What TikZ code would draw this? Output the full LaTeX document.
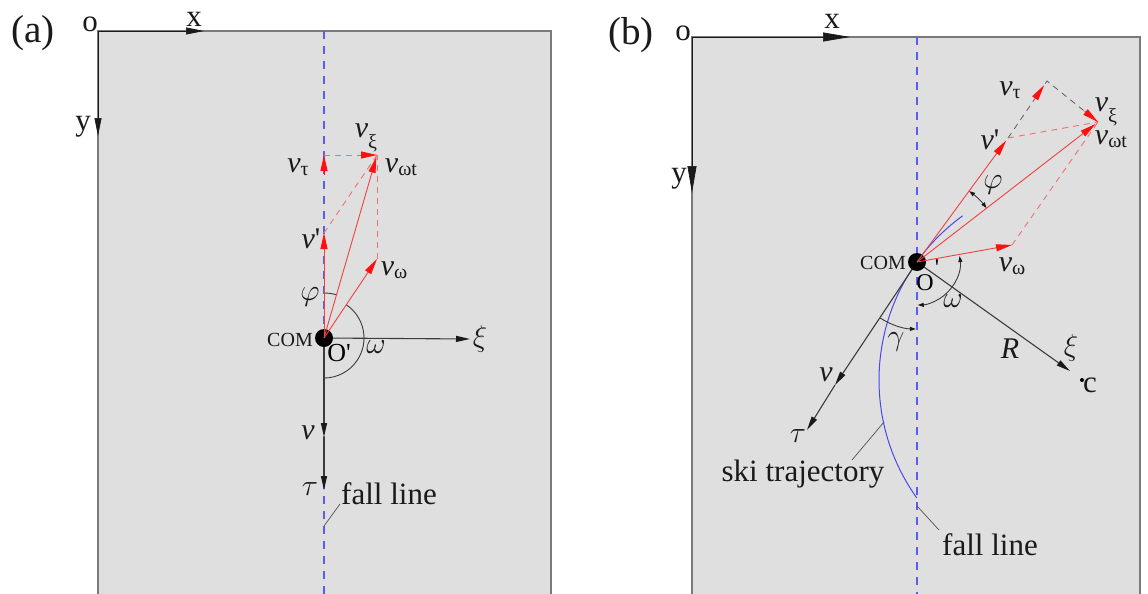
\RequirePackage{fix-cm}
\documentclass[tikz,border=0pt]{standalone}
\usepackage{fontspec}
\setmainfont{Liberation Serif}
\usetikzlibrary{arrows.meta,calc}
\definecolor{bg}{HTML}{DFDFDF}
\definecolor{edge}{HTML}{7A7A7A}
\definecolor{fallblue}{HTML}{5C5CF4}
\definecolor{vred}{HTML}{F04040}
\definecolor{tipred}{HTML}{FF1010}
\definecolor{dred}{HTML}{F07070}
\definecolor{trajblue}{HTML}{4848EE}
\definecolor{ink}{HTML}{1A1A1A}
\newcommand{\vsub}[1]{{\itshape v}\raisebox{-0.25ex}{\fontsize{20}{20}\selectfont #1}}
\newcommand{\vxi}{{\itshape v}\raisebox{-0.75ex}{\fontsize{20}{20}\selectfont ξ}}
\newcommand{\vprime}{{\itshape v}\textquotesingle}
\tikzset{
  panel/.style={fill=bg,draw=none},
  frame/.style={draw=edge,line width=1.2pt},
  fall/.style={draw=fallblue,line width=1.1pt,dash pattern=on 8pt off 7pt},
  axisa/.style={draw=ink,line width=0.7pt,-{Triangle[length=18pt,width=7pt]}},
  axisb/.style={draw=ink,line width=0.7pt,-{Triangle[length=27pt,width=9pt]}},
  blk/.style={draw=ink!85,line width=0.9pt},
  blkarrow/.style={blk,line width=1.1pt,-{Triangle[length=14pt,width=6pt,color=ink]}},
  smalltips/.style={blk,{Triangle[length=6pt,width=4pt,color=ink]}-{Triangle[length=6pt,width=4pt,color=ink]}},
  smalltip/.style={blk,-{Triangle[length=6pt,width=4pt,color=ink]}},
  redarrow/.style={draw=vred,line width=0.9pt,-{Triangle[length=16pt,width=7pt,color=tipred]}},
  redtip/.style={draw=tipred,line width=0.9pt,-{Triangle[length=16pt,width=7pt,color=tipred]}},
  reddash/.style={draw=dred,line width=0.9pt,dash pattern=on 6pt off 5pt},
  blkdash/.style={draw=ink!70,line width=0.8pt,dash pattern=on 6pt off 5pt},
  traj/.style={draw=trajblue,line width=1pt},
  leader/.style={draw=ink!75,line width=0.7pt},
  lab/.style={font=\fontsize{30}{32}\selectfont,inner sep=0pt,text=ink},
  big/.style={font=\fontsize{31}{33}\selectfont,inner sep=0pt,text=ink},
  small/.style={font=\fontsize{20}{21}\selectfont,inner sep=0pt,text=ink},
  title/.style={font=\fontsize{39}{41}\selectfont,inner sep=0pt,text=ink},
  dot/.style={fill=black}
}
\begin{document}
\begin{tikzpicture}[x=1pt,y=-1pt]
\useasboundingbox (0,0) rectangle (1148,594);
\fill[white] (0,0) rectangle (1148,594);
% ---------------- panel (a) ----------------
\fill[panel] (98,31) rectangle (551,594);
\draw[frame] (98,594) -- (98,31) -- (551,31) -- (551,594);
\coordinate (Oa) at (98,31);
\coordinate (Xa) at (204,31);
\coordinate (Ya) at (98,136);
\coordinate (FaT) at (324,31);
\coordinate (FaB) at (324,594);
\coordinate (A) at (324,338);
\coordinate (Aw) at (377,259);
\coordinate (At) at (377,155);
\coordinate (Ap) at (324,233);
\coordinate (Aq) at (324,155);
\coordinate (Aqb) at (324,175);
\coordinate (Axi) at (470,339);
\coordinate (Av) at (324,437);
\coordinate (Atau) at (324,490);
\coordinate (AfA) at (324,526);
\coordinate (AfB) at (340,504);
\draw[fall] (FaT) -- (FaB);
\draw[axisa] (Oa) -- (Xa);
\draw[axisa] (Oa) -- (Ya);
\draw[blkarrow] (A) -- (Axi);
\draw[blkarrow] (A) -- (Av);
\draw[blkarrow] (Av) -- (Atau);
\draw[blk] (A) ++(-90:45) arc[start angle=-90,end angle=-73.8,radius=45];
\draw[blk] (A) ++(-56.5:40) arc[start angle=-56.5,end angle=90,radius=40];
\draw[leader] (AfA) -- (AfB);
\fill[dot] (A) circle[radius=9];
\draw[reddash] (Ap) -- (At);
\draw[reddash] (Aw) -- (At);
\draw[reddash,-{Triangle[length=16pt,width=7pt,color=tipred]}] (Aq) -- (At);
\draw[redtip] (Aqb) -- (Aq);
\draw[redarrow] (A) -- (Ap);
\draw[redarrow,shorten >=2pt] (A) -- (At);
\draw[redarrow] (A) -- (Aw);
\node[title] (ta) at (33,33) {(a)};
\node[big] (oa) at (90,24) {o};
\node[big] (xa) at (194,19) {x};
\node[big] (ya) at (83,127) {y};
\node[lab] (lvtau) at (298,167) {\vsub{τ}};
\node[lab] (lvxi) at (366,138) {\vxi};
\node[lab] (lvwt) at (401,167) {\vsub{ωt}};
\node[lab] (lvp) at (311,239) {\vprime};
\node[lab] (lvw) at (394,270) {\vsub{ω}};
\node[lab] (lphi) at (310,297) {$\varphi$};
\node[small] (lcom) at (290,340) {COM};
\node[font=\fontsize{26}{27}\selectfont,inner sep=0pt] (lo) at (339,353) {O\textquotesingle};
\node[lab] (lom) at (376,347) {$\omega$};
\node[lab] (lxi) at (480,339) {$\xi$};
\node[lab] (lv) at (308,433) {\itshape v};
\node[lab] (ltau) at (310,489) {$\tau$};
\node[big] (lfall) at (389,494) {fall line};
% ---------------- panel (b) ----------------
\fill[panel] (692,37) rectangle (1140,594);
\draw[frame] (692,594) -- (692,37) -- (1140,37) -- (1140,594);
\coordinate (Ob) at (692,37);
\coordinate (Xb) at (850,37);
\coordinate (Yb) at (692,193);
\coordinate (FbT) at (917,37);
\coordinate (FbB) at (917,594);
\coordinate (B) at (917,262);
\coordinate (Bp) at (1008,138);
\coordinate (Bq) at (1047,81);
\coordinate (Bt) at (1098,122);
\coordinate (Bw) at (1012,245);
\coordinate (Bc) at (1082,380);
\coordinate (Bxi) at (1070,371);
\coordinate (Bv) at (835,385);
\coordinate (Btau) at (807,430);
\coordinate (BsA) at (884,422);
\coordinate (BsB) at (852,460);
\coordinate (BfA) at (917,506);
\coordinate (BfB) at (939,530);
\draw[fall] (FbT) -- (FbB);
\draw[axisb] (Ob) -- (Xb);
\draw[axisb] (Ob) -- (Yb);
\draw[traj] (Bc) ++(-126:203) arc[start angle=-126,end angle=-215.5,radius=203];
\draw[blkarrow] (B) -- (Bxi);
\draw[blkarrow] (B) -- (Bv);
\draw[blkarrow] (Bv) -- (Btau);
\fill[black] (Bc) circle[radius=2];
\draw[smalltips] (B) ++(-8:43) arc[start angle=-8,end angle=89,radius=43];
\draw[smalltip] (B) ++(123.2:67) arc[start angle=123.2,end angle=91,radius=67];
\draw[smalltips] (B) ++(-53.7:88) arc[start angle=-53.7,end angle=-37.7,radius=88];
\draw[leader] (BsA) -- (BsB);
\draw[leader] (BfA) -- (BfB);
\fill[dot] (B) circle[radius=9];
\draw[blkdash] (Bp) -- (Bq) -- (Bt);
\draw[reddash] (Bp) -- (Bt);
\draw[reddash] (Bw) -- (Bt);
\draw[redtip] ($(Bq)!21pt!(Bp)$) -- ($(Bq)!5pt!(Bp)$);
\draw[redtip] ($(Bt)!17pt!(Bq)$) -- (Bt);
\draw[redarrow,shorten >=3pt] (B) -- (Bp);
\draw[redarrow,shorten >=3pt] (B) -- (Bt);
\draw[redarrow] (B) -- (Bw);
\node[title] (tb) at (631,35) {(b)};
\node[big] (ob) at (683,33) {o};
\node[big] (xb) at (832,21) {x};
\node[big] (yb) at (679,179) {y};
\node[small] (lcomb) at (883,263) {COM};
\node[font=\fontsize{24}{25}\selectfont,inner sep=0pt] (lob) at (925,283) {O};
\node[font=\fontsize{24}{25}\selectfont,inner sep=0pt] (lpb) at (937,268) {\textquotesingle};
\node[lab] (lomb) at (953,301) {$\omega$};
\node[lab] (lgam) at (896,342) {$\gamma$};
\node[lab] (lR) at (1010,349) {\itshape R};
\node[lab] (lxib) at (1071,348) {$\xi$};
\node[big] (lc) at (1090,385) {c};
\node[lab] (lvb) at (826,375) {\itshape v};
\node[lab] (ltaub) at (798,436) {$\tau$};
\node[big] (lski) at (803,474) {ski trajectory};
\node[big] (lfallb) at (990,545) {fall line};
\node[lab] (lvtaub) at (1010,90) {\vsub{τ}};
\node[lab] (lvxib) at (1106,112) {\vxi};
\node[lab] (lvwtb) at (1111,139) {\vsub{ωt}};
\node[lab] (lvpb) at (990,140) {\vprime};
\node[lab] (lphib) at (993,185) {$\varphi$};
\node[lab] (lvwb) at (1012,266) {\vsub{ω}};
\end{tikzpicture}
\end{document}
